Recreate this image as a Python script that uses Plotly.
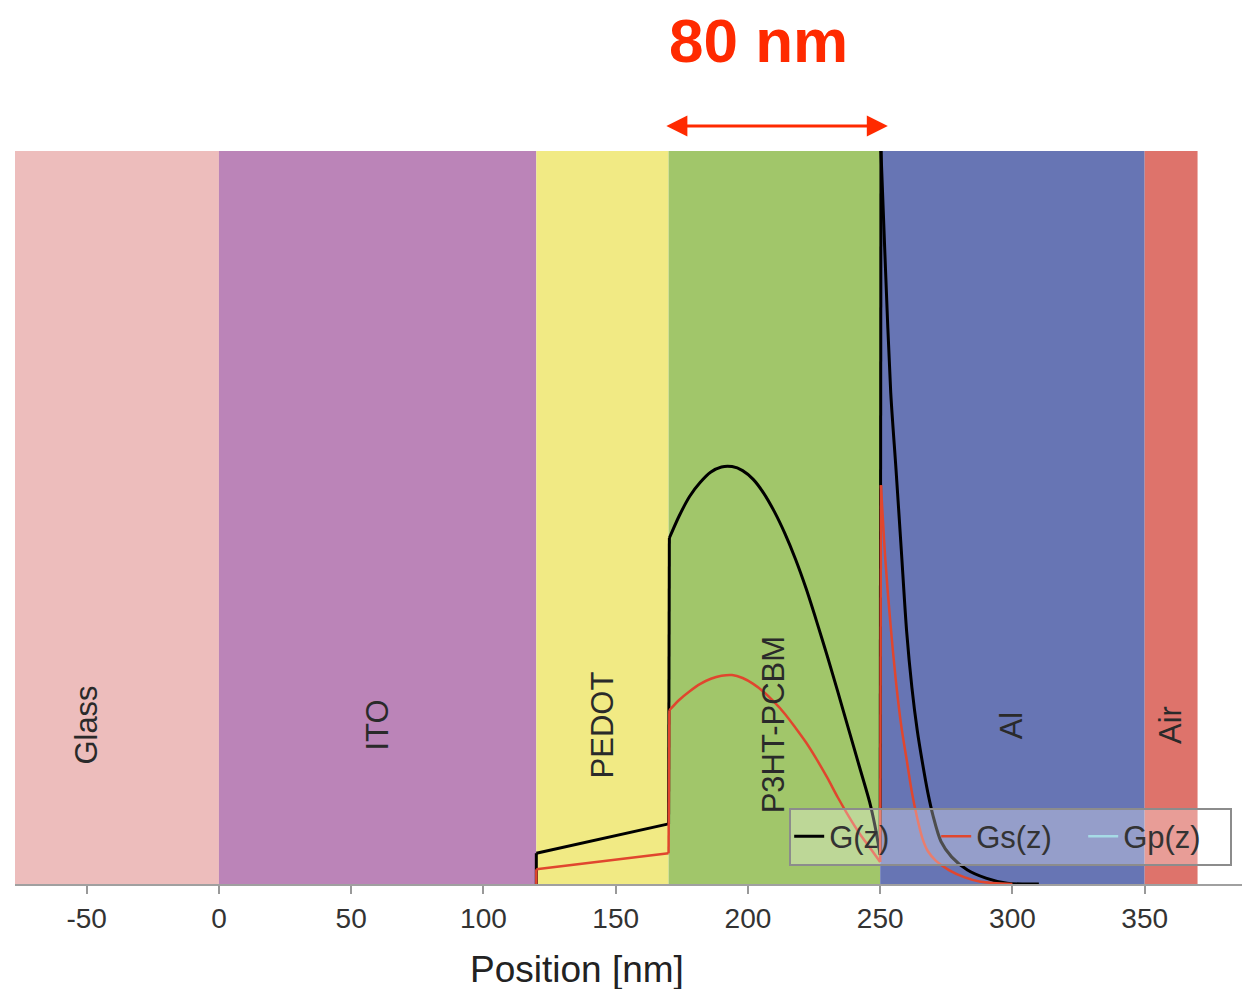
import plotly.graph_objects as go

# ---------------- data ----------------
layer_names = ["Glass", "ITO", "PEDOT", "P3HT-PCBM", "Al", "Air"]
layer_start = [-100, 0, 120, 170, 250, 350]
layer_end = [0, 120, 170, 250, 350, 370]
layer_colors = ["#edbdbc", "#bb84b8", "#f1ea84", "#a1c66a", "#6775b4", "#de736b"]

# total generation rate G(z)
g_pos = [120, 120, 170, 170.3, 174, 178, 182, 186, 190, 194, 198, 202, 206, 210, 214,
         218, 222, 226, 230, 234, 238, 242, 246, 248, 250, 250.3, 252, 254, 256, 258,
         260, 262, 264, 266, 268, 270, 273, 277, 283, 290, 298, 310]
g_val = [0, 0.042, 0.082, 0.472, 0.502, 0.529, 0.548, 0.562, 0.569, 0.5695, 0.564, 0.552,
         0.533, 0.508, 0.478, 0.443, 0.403, 0.358, 0.311, 0.262, 0.212, 0.162, 0.112,
         0.08, 0.04, 1.0, 0.84, 0.67, 0.565, 0.455, 0.345, 0.268, 0.21, 0.165, 0.125,
         0.093, 0.058, 0.037, 0.019, 0.008, 0.001, 0.0]

# s-polarised generation Gs(z)
gs_pos = [120, 120, 170, 170.3, 174, 178, 182, 186, 190, 194, 198, 202, 206, 210, 214,
          218, 222, 226, 230, 234, 238, 242, 246, 250, 250.3, 252, 254, 256, 258, 260,
          262, 264, 266, 268, 271, 276, 282, 288, 300]
gs_val = [0, 0.020, 0.042, 0.237, 0.251, 0.263, 0.273, 0.28, 0.284, 0.285, 0.281, 0.273,
          0.262, 0.248, 0.232, 0.213, 0.193, 0.17, 0.145, 0.118, 0.093, 0.07, 0.05, 0.03,
          0.544, 0.44, 0.35, 0.275, 0.215, 0.17, 0.125, 0.09, 0.062, 0.045, 0.032, 0.019,
          0.009, 0.003, 0.0]

# p-polarised generation Gp(z) (not visible in the picture, legend only)
gp_pos = [None]
gp_val = [None]

tick_vals = [-50, 0, 50, 100, 150, 200, 250, 300, 350]
tick_text = ["-50", "0", "50", "100", "150", "200", "250", "300", "350"]

x_range = [-77.1, 386.8]
active_start, active_end = 168.6, 252.9   # arrow span (80 nm active layer)

FONT = "Liberation Sans, Arial, Helvetica, sans-serif"

fig = go.Figure()


def add_series(xs, ys, name, color, width):
    """Smooth runs drawn as splines, jumps (repeated / nearly equal x) as straight lines."""
    runs, cur = [], [0]
    for i in range(1, len(xs)):
        if xs[i] - xs[i - 1] < 0.5:
            runs.append(cur)
            cur = [i]
        else:
            cur.append(i)
    runs.append(cur)
    cx, cy = [], []
    for a, b in zip(runs[:-1], runs[1:]):
        cx += [xs[a[-1]], xs[b[0]], None]
        cy += [ys[a[-1]], ys[b[0]], None]
    first = True
    for r in runs:
        if len(r) < 2:
            continue
        fig.add_trace(go.Scatter(
            x=[xs[i] for i in r], y=[ys[i] for i in r], mode="lines", name=name,
            legendgroup=name, showlegend=first,
            line=dict(color=color, width=width,
                      shape="spline" if len(r) > 2 else "linear", smoothing=0.8)))
        first = False
    fig.add_trace(go.Scatter(x=cx, y=cy, mode="lines", name=name, legendgroup=name,
                             showlegend=False, line=dict(color=color, width=width)))


add_series(g_pos, g_val, "G(z)", "#000000", 3)
add_series(gs_pos, gs_val, "Gs(z)", "#e0462e", 2.5)
fig.add_trace(go.Scatter(x=gp_pos, y=gp_val, mode="lines", name="Gp(z)",
                         line=dict(color="#a6dbe6", width=2.5)))

shapes = []
annotations = []
for name, x0, x1, col in zip(layer_names, layer_start, layer_end, layer_colors):
    shapes.append(dict(type="rect", xref="x", yref="paper", x0=x0, x1=x1, y0=0, y1=1,
                       fillcolor=col, line=dict(width=0), layer="below"))
    annotations.append(dict(x=(x0 + x1) / 2, y=0.217, xref="x", yref="y", text=name,
                            textangle=-90, showarrow=False,
                            font=dict(family=FONT, size=31, color="#2a2a2a")))

annotations.append(dict(x=204, y=1.151, xref="x", yref="paper", text="<b>80 nm</b>",
                        yanchor="middle", xanchor="center", showarrow=False,
                        font=dict(family=FONT, size=62, color="#ff2a00")))
annotations.append(dict(x=active_end, y=1.034, xref="x", yref="paper", text="",
                        showarrow=True, axref="x", ax=active_start, ayref="pixel", ay=0,
                        arrowside="end+start", arrowhead=2, startarrowhead=2,
                        arrowsize=1.4, startarrowsize=1.4, arrowwidth=3,
                        arrowcolor="#ff2a00"))
annotations.append(dict(x=0.458, y=-0.116, xref="paper", yref="paper", text="Position [nm]",
                        showarrow=False, xanchor="center", yanchor="middle",
                        font=dict(family=FONT, size=37, color="#222222")))

fig.update_layout(
    width=1242, height=989,
    margin=dict(l=15, r=0, t=151, b=105),
    plot_bgcolor="white", paper_bgcolor="white",
    font=dict(family=FONT, color="#333333"),
    shapes=shapes, annotations=annotations,
    showlegend=True,
    legend=dict(orientation="h", x=0.992, xanchor="right", y=0.025, yanchor="bottom",
                bgcolor="rgba(255,255,255,0.3)", bordercolor="#8c8c8c", borderwidth=2,
                entrywidth=102, entrywidthmode="pixels",
                font=dict(family=FONT, size=31, color="#333333")),
    xaxis=dict(range=x_range, tickvals=tick_vals, ticktext=tick_text, ticks="outside",
               ticklen=8, tickwidth=1.5, tickcolor="#999999", showline=True,
               linecolor="#a0a0a0", linewidth=2, showgrid=False, zeroline=False,
               tickfont=dict(family=FONT, size=28, color="#333333")),
    yaxis=dict(range=[0, 1], visible=False, showgrid=False, zeroline=False),
)

fig.write_html("out.html")
